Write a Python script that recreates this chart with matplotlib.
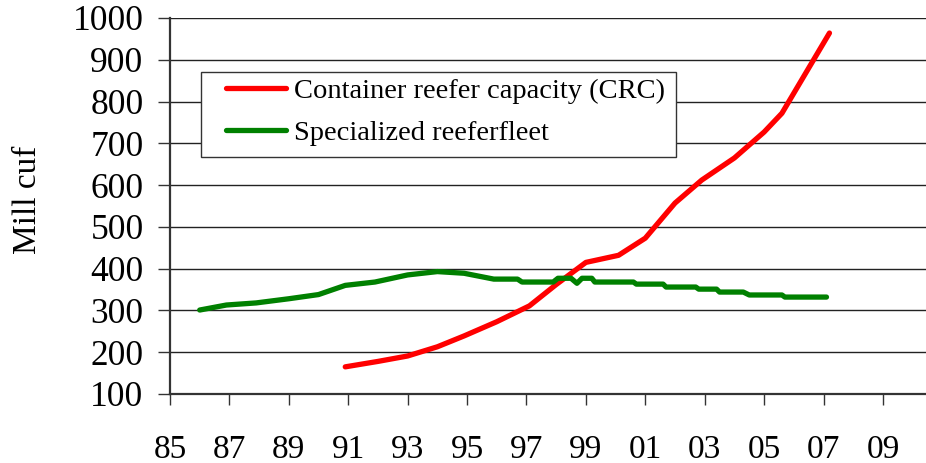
import matplotlib
matplotlib.use("Agg")
import matplotlib.pyplot as plt
from matplotlib.patches import Rectangle

# ---- data ----
crc_years = [1990.9, 1992.0, 1993.0, 1994.0, 1994.9, 1996.0, 1997.1, 1998.0,
             1999.0, 2000.1, 2001.0, 2002.0, 2002.9, 2004.0, 2005.0, 2005.6, 2007.2]
crc_values = [165, 178, 191, 213, 239, 273, 311, 362,
              415, 432, 473, 557, 612, 665, 727, 772, 964]

fleet_years = [1986.0, 1986.9, 1987.9, 1989.0, 1990.0, 1990.9, 1991.9, 1993.0,
               1994.0, 1994.9, 1995.9, 1996.7, 1996.85, 1997.9, 1998.06, 1998.5,
               1998.7, 1998.87, 1999.2, 1999.3, 2000.6, 2000.7, 2001.6, 2001.7,
               2002.7, 2002.8, 2003.4, 2003.5, 2004.3, 2004.5, 2005.6, 2005.7, 2007.1]
fleet_values = [301, 313, 318, 328, 338, 360, 368, 385,
                393, 389, 375, 375, 368, 368, 377, 377,
                365, 377, 377, 368, 368, 363, 363, 356,
                356, 351, 351, 344, 344, 337, 337, 332, 332]

xtick_years = list(range(1985, 2010, 2))
xtick_labels = ["85", "87", "89", "91", "93", "95", "97", "99", "01", "03", "05", "07", "09"]
ytick_values = list(range(100, 1001, 100))

series_labels = ["Container reefer capacity (CRC)", "Specialized reeferfleet"]

# ---- figure ----
plt.rcParams['font.family'] = ['Liberation Serif', 'DejaVu Serif']
W, H = 926, 463
fig = plt.figure(figsize=(W / 100, H / 100), dpi=100)
ax = fig.add_axes([170 / W, (H - 394) / H, (W - 170) / W, (394 - 18) / H])

ax.plot(crc_years, crc_values, color='#ff0000', lw=3.8, solid_capstyle='round',
        solid_joinstyle='round', label=series_labels[0], zorder=3)
ax.plot(fleet_years, fleet_values, color='#008000', lw=3.8, solid_capstyle='round',
        solid_joinstyle='round', label=series_labels[1], zorder=3)

ax.set_xlim(1985, 2010.45)
ax.set_ylim(100, 1000)
ax.set_xticks(xtick_years)
ax.set_xticklabels(xtick_labels)
ax.set_yticks(ytick_values)

ax.grid(axis='y', color='#222222', lw=1.0)
ax.set_axisbelow(True)

for s in ['top', 'right']:
    ax.spines[s].set_visible(False)
for s in ['left', 'bottom']:
    ax.spines[s].set_color('#333333')
    ax.spines[s].set_linewidth(1.6)
    ax.spines[s].set_zorder(4)

ax.tick_params(axis='y', direction='out', length=9, width=1, color='#333333',
               labelsize=25.5, pad=10)
ax.tick_params(axis='x', direction='out', length=8, width=1, color='#333333',
               labelsize=24, pad=21)

fig.text(28 / W, 1 - 200 / H, "Mill cuf", rotation=90, fontsize=24,
         ha='center', va='center')

# legend frame (figure pixel box 201..676 x 72..157)
frame = Rectangle((201 / W, 1 - 157 / H), (676 - 201) / W, (157 - 72) / H,
                  transform=fig.transFigure, facecolor='white', edgecolor='#333333',
                  lw=1.0, zorder=5)
ax.add_artist(frame)
frame.set_clip_on(False)

leg = ax.legend(loc='upper left',
                bbox_to_anchor=((226 - 170) / 756, (394 - 78) / 376),
                borderaxespad=0, borderpad=0, frameon=False, fontsize=20.5,
                handlelength=2.1, handletextpad=0.3, labelspacing=0.58)
leg.set_zorder(6)
for line in leg.get_lines():
    line.set_linewidth(3.8)

fig.savefig("out.png", dpi=100)
